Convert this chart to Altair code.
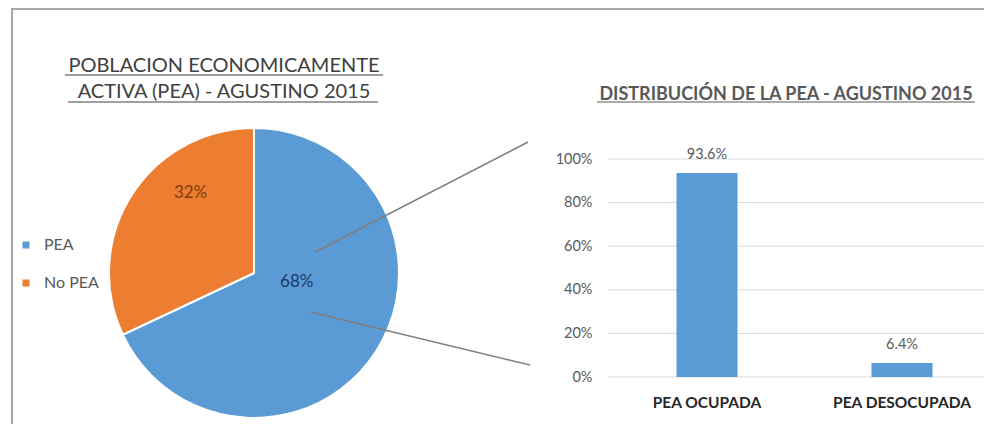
import altair as alt
import pandas as pd

# ---- data ----
pie_categories = ["PEA", "No PEA"]
pie_values = [0.68, 0.32]
bar_categories = ["PEA OCUPADA", "PEA DESOCUPADA"]
bar_values = [0.936, 0.064]
y_ticks = [0.0, 0.2, 0.4, 0.6, 0.8, 1.0]
title_left = ["POBLACION ECONOMICAMENTE", "ACTIVA (PEA) - AGUSTINO 2015"]
title_right = ["DISTRIBUCIÓN DE LA PEA - AGUSTINO 2015"]

BLUE = "#5B9BD5"
ORANGE = "#ED7D31"
FONT = "Lato"

pie_df = pd.DataFrame({"cat": pie_categories, "value": pie_values,
                       "idx": list(range(len(pie_categories)))})
bar_df = pd.DataFrame({"cat": bar_categories, "value": bar_values})
grid_df = pd.DataFrame({"tick": y_ticks})
one = pd.DataFrame({"k": [0]})

CX, CY, R = 246, 265, 145

yscale = alt.Scale(domain=[0, 1], range=[369, 151], nice=False, zero=True)
xscale = alt.Scale(domain=bar_categories, range=[601.5, 991.5],
                   paddingInner=0.687, paddingOuter=0.3435)
yaxis = alt.Axis(values=y_ticks, format=".0%", offset=-584, domain=False, ticks=False,
                 tickSize=0, labelPadding=0, grid=False, labelFontSize=14.5,
                 labelColor="#595959", labelFont=FONT, title=None)
xaxis = alt.Axis(offset=-22, domain=False, ticks=False, tickSize=0, labelPadding=0,
                 labelBaseline="middle", labelAngle=0, labelFontSize=15.5,
                 labelFontWeight="bold", labelColor="#262626", labelFont=FONT, title=None)

theta = alt.Theta("value:Q", stack=True)
order = alt.Order("idx:Q")

# frame
frame_top = alt.Chart(one).mark_rule(color="#a6a6a6", strokeWidth=2).encode(
    x=alt.value(4), x2=alt.value(976), y=alt.value(1))
frame_left = alt.Chart(one).mark_rule(color="#a6a6a6", strokeWidth=2).encode(
    x=alt.value(4), y=alt.value(0), y2=alt.value(416))

pie = alt.Chart(pie_df).mark_arc(radius=R, stroke="white", strokeWidth=2).encode(
    theta=theta,
    order=order,
    color=alt.Color("cat:N", scale=alt.Scale(domain=pie_categories, range=[BLUE, ORANGE]),
                    legend=alt.Legend(orient="none", legendX=10, legendY=229, title=None,
                                      symbolType="square", symbolSize=49, labelFontSize=16,
                                      labelFont=FONT, labelColor="#595959", labelOffset=10,
                                      rowPadding=22, padding=0, symbolStrokeWidth=0)),
    x=alt.value(CX), y=alt.value(CY))

lab_a = alt.Chart(pie_df).transform_calculate(
    lab="datum.cat == 'PEA' ? format(datum.value, '.0%') : ''"
).mark_text(radius=40, dx=9, dy=-12, fontSize=17, font=FONT, color="#1F3864",
            baseline="middle").encode(
    theta=theta, order=order, text="lab:N", x=alt.value(CX), y=alt.value(CY))

lab_b = alt.Chart(pie_df).transform_calculate(
    lab="datum.cat == 'No PEA' ? format(datum.value, '.0%') : ''"
).mark_text(radius=100, dx=21, dy=-26, fontSize=17, font=FONT, color="#843C0C",
            baseline="middle").encode(
    theta=theta, order=order, text="lab:N", x=alt.value(CX), y=alt.value(CY))

conn1 = alt.Chart(one).mark_rule(color="#7f7f7f", strokeWidth=1.5).encode(
    x=alt.value(307), y=alt.value(244), x2=alt.value(520), y2=alt.value(134))
conn2 = alt.Chart(one).mark_rule(color="#7f7f7f", strokeWidth=1.5).encode(
    x=alt.value(302), y=alt.value(304), x2=alt.value(522), y2=alt.value(357))

grid = alt.Chart(grid_df).mark_rule(color="#d9d9d9", strokeWidth=1).encode(
    y=alt.Y("tick:Q", scale=yscale, axis=yaxis),
    x=alt.value(600), x2=alt.value(976))

bars = alt.Chart(bar_df).mark_bar(color=BLUE).encode(
    x=alt.X("cat:N", scale=xscale, axis=xaxis, sort=bar_categories),
    y=alt.Y("value:Q", scale=yscale, axis=yaxis))

bar_labels = alt.Chart(bar_df).mark_text(dy=-18, baseline="middle", fontSize=14.5,
                                         font=FONT, color="#595959").encode(
    x=alt.X("cat:N", scale=xscale, axis=xaxis, sort=bar_categories),
    y=alt.Y("value:Q", scale=yscale, axis=yaxis),
    text=alt.Text("value:Q", format=".1%"))

t1 = alt.Chart(pd.DataFrame({"t": [title_left[0]]})).mark_text(
    fontSize=20, font=FONT, color="#404040", align="center", baseline="alphabetic").encode(
    text="t:N", x=alt.value(216), y=alt.value(64))
t2 = alt.Chart(pd.DataFrame({"t": [title_left[1]]})).mark_text(
    fontSize=20, font=FONT, color="#404040", align="center", baseline="alphabetic").encode(
    text="t:N", x=alt.value(216), y=alt.value(90))
t3 = alt.Chart(pd.DataFrame({"t": title_right})).mark_text(
    fontSize=18, font=FONT, fontWeight="bold", color="#595959", align="center",
    baseline="alphabetic").encode(text="t:N", x=alt.value(778), y=alt.value(92))

u1 = alt.Chart(one).mark_rule(color="#404040", strokeWidth=1).encode(
    x=alt.value(57), x2=alt.value(375), y=alt.value(67))
u2 = alt.Chart(one).mark_rule(color="#404040", strokeWidth=1).encode(
    x=alt.value(60), x2=alt.value(370), y=alt.value(94))
u3 = alt.Chart(one).mark_rule(color="#595959", strokeWidth=1).encode(
    x=alt.value(589), x2=alt.value(967), y=alt.value(94))

chart = alt.layer(
    frame_top, frame_left, grid, bars, bar_labels, pie, conn1, conn2, lab_a, lab_b,
    t1, t2, t3, u1, u2, u3
).properties(
    width=976, height=416,
    autosize=alt.AutoSizeParams(type="none"),
    padding=0,
    background="white",
).configure_view(stroke=None)

chart.save("out.html", embed_options={"renderer": "svg", "actions": False})
